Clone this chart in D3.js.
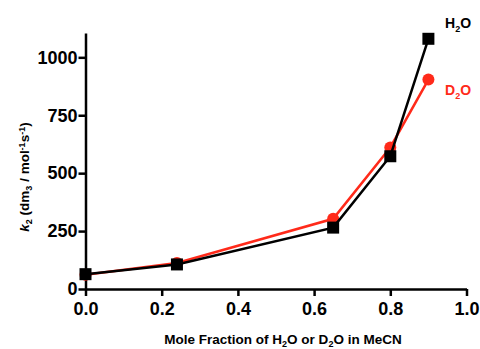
<!DOCTYPE html>
<html>
<head>
<meta charset="utf-8">
<script src="https://cdnjs.cloudflare.com/ajax/libs/d3/7.8.5/d3.min.js"></script>
<style>
  body { margin: 0; background: #fff; }
  svg { display: block; font-family: "Liberation Sans", Arial, sans-serif; }
</style>
</head>
<body>
<div id="chart"></div>
<script>
(function() {
    'use strict';

    // Data
    var fractions = [0, 0.24, 0.65, 0.8, 0.9];
    var h2oValues = [64, 106, 265, 573, 1080];
    var d2oValues = [62, 112, 303, 611, 904];
    var xTicks = [0, 0.2, 0.4, 0.6, 0.8, 1.0];
    var yTicks = [0, 250, 500, 750, 1000];

    var width = 480, height = 349;
    var margin = { left: 85.5, right: 13.5, top: 33, bottom: 60 };

    var svg = d3.select('#chart').append('svg')
        .attr('width', width)
        .attr('height', height);

    var x = d3.scaleLinear().domain([0, 1]).range([margin.left, width - margin.right]);
    var y = d3.scaleLinear().domain([0, 1105]).range([height - margin.bottom, margin.top]);

    // Axes
    var xAxis = svg.append('g')
        .attr('transform', 'translate(0,' + y(0) + ')')
        .call(d3.axisBottom(x).tickValues(xTicks).tickFormat(d3.format('.1f')).tickSize(7).tickSizeOuter(0));
    var yAxis = svg.append('g')
        .attr('transform', 'translate(' + x(0) + ',0)')
        .call(d3.axisLeft(y).tickValues(yTicks).tickFormat(d3.format('d')).tickSize(7).tickSizeOuter(0));

    [xAxis, yAxis].forEach(function(ax) {
        ax.select('.domain').attr('stroke', '#000').attr('stroke-width', 2.5);
        ax.selectAll('.tick line').attr('stroke', '#000').attr('stroke-width', 2.5);
        ax.selectAll('.tick text')
            .attr('fill', '#000')
            .style('font-size', '18px')
            .style('font-weight', 'bold')
            .style('font-family', '"Liberation Sans", Arial, sans-serif');
    });
    xAxis.selectAll('.tick text').attr('dy', '1.05em').attr('y', 7);
    yAxis.selectAll('.tick text').attr('x', -8);

    // Lines
    var line = d3.line()
        .x(function(d) { return x(d[0]); })
        .y(function(d) { return y(d[1]); });

    var h2o = fractions.map(function(f, i) { return [f, h2oValues[i]]; });
    var d2o = fractions.map(function(f, i) { return [f, d2oValues[i]]; });

    svg.append('path').datum(d2o)
        .attr('d', line).attr('fill', 'none')
        .attr('stroke', '#ff2a1a').attr('stroke-width', 2.5);

    svg.append('g').selectAll('circle').data(d2o).join('circle')
        .attr('cx', function(d) { return x(d[0]); })
        .attr('cy', function(d) { return y(d[1]); })
        .attr('r', 6)
        .attr('fill', '#ff2a1a');

    svg.append('path').datum(h2o)
        .attr('d', line).attr('fill', 'none')
        .attr('stroke', '#000').attr('stroke-width', 2.5);

    svg.append('g').selectAll('rect').data(h2o).join('rect')
        .attr('x', function(d) { return x(d[0]) - 6; })
        .attr('y', function(d) { return y(d[1]) - 6; })
        .attr('width', 12).attr('height', 12)
        .attr('fill', '#000');

    // Series labels
    var lab1 = svg.append('text').attr('x', 445).attr('y', 28)
        .style('font-size', '14px').style('font-weight', 'bold').attr('fill', '#000');
    lab1.append('tspan').text('H');
    lab1.append('tspan').text('2').style('font-size', '9px').attr('dy', 4);
    lab1.append('tspan').text('O').attr('dy', -4);

    var lab2 = svg.append('text').attr('x', 445).attr('y', 95)
        .style('font-size', '14px').style('font-weight', 'bold').attr('fill', '#ff2a1a');
    lab2.append('tspan').text('D');
    lab2.append('tspan').text('2').style('font-size', '9px').attr('dy', 4);
    lab2.append('tspan').text('O').attr('dy', -4);

    // X axis title
    var xt = svg.append('text').attr('x', 283).attr('y', 344)
        .attr('text-anchor', 'middle')
        .style('font-size', '13.5px').style('font-weight', 'bold').attr('fill', '#000');
    xt.append('tspan').text('Mole Fraction of H');
    xt.append('tspan').text('2').style('font-size', '9px').attr('dy', 2.5);
    xt.append('tspan').text('O or D').attr('dy', -2.5);
    xt.append('tspan').text('2').style('font-size', '9px').attr('dy', 2.5);
    xt.append('tspan').text('O in MeCN').attr('dy', -2.5);

    // Y axis title
    var yt = svg.append('text')
        .attr('transform', 'translate(29,177) rotate(-90)')
        .attr('text-anchor', 'middle')
        .style('font-size', '13.5px').style('font-weight', 'bold').attr('fill', '#000');
    yt.append('tspan').text('k').style('font-style', 'italic');
    yt.append('tspan').text('2').style('font-size', '9px').attr('dy', 3);
    yt.append('tspan').text(' (dm').attr('dy', -3);
    yt.append('tspan').text('3').style('font-size', '9px').attr('dy', 3);
    yt.append('tspan').text(' / mol').attr('dy', -3);
    yt.append('tspan').text('-1').style('font-size', '9px').attr('dy', -4);
    yt.append('tspan').text('s').attr('dy', 4);
    yt.append('tspan').text('-1').style('font-size', '9px').attr('dy', -4);
    yt.append('tspan').text(')').attr('dy', 4);
})();
</script>
</body>
</html>
